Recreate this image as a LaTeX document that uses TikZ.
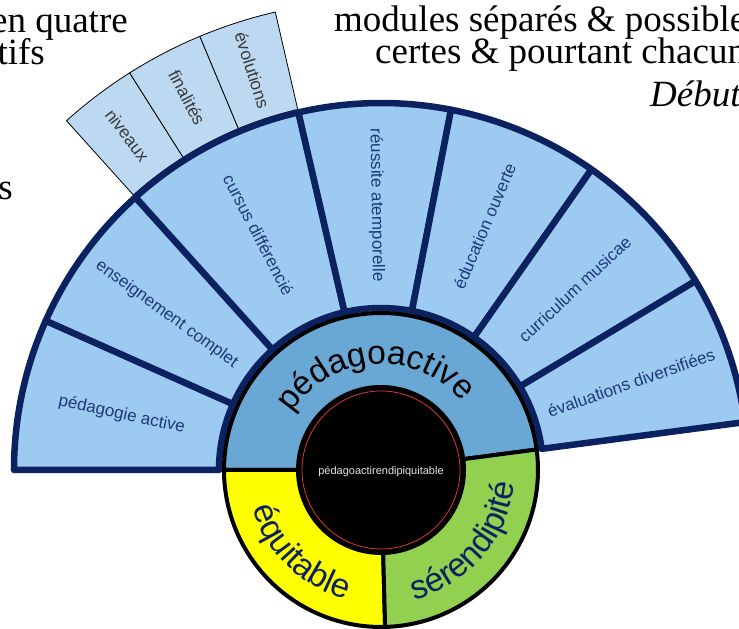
\documentclass[tikz,border=0pt]{standalone}
\usepackage{fontspec}
\setmainfont{Liberation Serif}
\setsansfont{Liberation Sans}
\usetikzlibrary{decorations.text}
\definecolor{navyline}{HTML}{0C2260}
\definecolor{navytext}{HTML}{1E3A78}
\definecolor{fanblue}{HTML}{9DCAF0}
\definecolor{subblue}{HTML}{BDD9F2}
\definecolor{ringblue}{HTML}{69A8D5}
\definecolor{ringgreen}{HTML}{92D050}
\definecolor{ringyellow}{HTML}{FFFF00}
\definecolor{darkgrey}{HTML}{3A3A3A}
\definecolor{corered}{HTML}{E03434}
\tikzset{
	fanseg/.style = {draw=navyline, fill=fanblue, line width=6.5pt, line join=round},
	subseg/.style = {draw=black, fill=subblue, line width=0.8pt},
	ringseg/.style = {draw=black, line width=4pt},
	fanlabel/.style = {text=navytext, font=\sffamily\fontsize{17}{20}\selectfont, inner sep=0pt},
	sublabel/.style = {text=darkgrey, font=\sffamily\fontsize{17.5}{20}\selectfont, inner sep=0pt},
	slidetext/.style = {font=\fontsize{37}{40}\selectfont, inner sep=0pt},
	ringtext/.style 2 args = {decorate, decoration={text along path, text align=center,
	                          text color=#1, text={|\sffamily\fontsize{33.5}{36}\selectfont|#2}}}
}

\begin{document}
\begin{tikzpicture}
		\useasboundingbox (-381pt,-159pt) rectangle (358pt,470pt);
		\clip (-381pt,-159pt) rectangle (358pt,470pt);
		
		\node[slidetext, anchor=base east] (quatre) at (-253pt,437pt) {en quatre};
		\node[slidetext, anchor=base east] (tifs) at (-336pt,405pt) {tifs};
		\node[slidetext, anchor=base east] (lastS) at (-368pt,270pt) {s};
		\node[slidetext, anchor=base west] (modules) at (-47pt,438pt) {modules séparés \& possible};
		\node[slidetext, anchor=base west] (certes) at (-6pt,406pt) {certes \& pourtant chacun};
		\node[slidetext, anchor=base west, font=\itshape\fontsize{37}{40}\selectfont] (debut) at (269pt,363pt) {Début};
		
		\foreach \a/\b/\txt [count=\i] in {132/122.33/niveaux, 122.33/112.67/finalités, 112.67/103/évolutions}{
			\pgfmathsetmacro{\m}{(\a+\b)/2}
			\draw[subseg] (\a:370pt) -- (\a:470pt) arc[start angle=\a, end angle=\b, radius=470pt]
				-- (\b:370pt) arc[start angle=\b, end angle=\a, radius=370pt] -- cycle;
			\node[sublabel, rotate=\m-180] (sub\i) at (\m:420pt) {\txt};
		}
		
		\foreach \a/\b/\txt [count=\i] in {180/156/pédagogie active, 156/132/enseignement complet,
			132/103/cursus différencié, 103/79/réussite atemporelle, 79/55/éducation ouverte,
			55/31/curriculum musicae, 31/7.5/évaluations diversifiées}{
			\pgfmathsetmacro{\m}{(\a+\b)/2}
			\pgfmathsetmacro{\rot}{\m>90 ? \m-180 : \m}
			\draw[fanseg] (\a:162pt) -- (\a:367pt) arc[start angle=\a, end angle=\b, radius=367pt]
				-- (\b:162pt) arc[start angle=\b, end angle=\a, radius=162pt] -- cycle;
			\node[fanlabel, rotate=\rot] (fan\i) at (\m:265pt) {\txt};
		}
		
		\draw[ringseg, fill=ringblue] (7.5:83pt) -- (7.5:157pt) arc[start angle=7.5, end angle=180, radius=157pt]
			-- (180:83pt) arc[start angle=180, end angle=7.5, radius=83pt] -- cycle;
		\draw[ringseg, fill=ringyellow] (180:83pt) -- (180:157pt) arc[start angle=180, end angle=271.5, radius=157pt]
			-- (271.5:83pt) arc[start angle=271.5, end angle=180, radius=83pt] -- cycle;
		\draw[ringseg, fill=ringgreen] (271.5:83pt) -- (271.5:157pt) arc[start angle=271.5, end angle=367.5, radius=157pt]
			-- (367.5:83pt) arc[start angle=367.5, end angle=271.5, radius=83pt] -- cycle;
		
		\path[ringtext={black}{pédagoactive}] (173.75:106pt) arc[start angle=173.75, end angle=13.75, radius=106pt];
		\path[ringtext={navyline}{équitable}] (185.75:134pt) arc[start angle=185.75, end angle=265.75, radius=134pt];
		\path[ringtext={navyline}{sérendipité}] (279.5:134pt) arc[start angle=279.5, end angle=359.5, radius=134pt];
		
		\node[circle, fill=black, draw=black, line width=4pt, minimum size=162pt, inner sep=0pt] (core) at (0,0) {};
		\draw[corered, line width=0.8pt] (core.center) circle[radius=79pt];
		\node[text=white!90!black, font=\sffamily\fontsize{11}{13}\selectfont] (coretext) at (0,-2pt) {pédagoactirendipiquitable};
\end{tikzpicture}
\end{document}
